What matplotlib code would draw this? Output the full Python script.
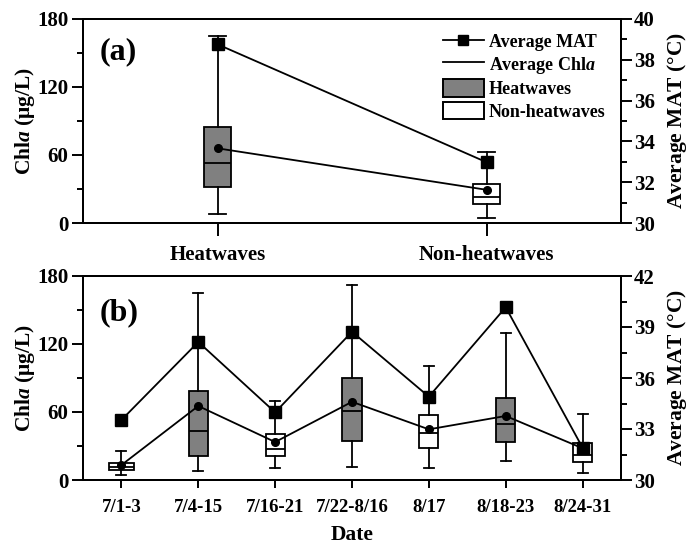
import matplotlib
matplotlib.use("Agg")
import matplotlib.pyplot as plt
from matplotlib.lines import Line2D
from matplotlib.patches import Patch
from matplotlib.ticker import MultipleLocator

plt.rcParams['font.family'] = ['Liberation Serif', 'DejaVu Serif']
plt.rcParams['font.weight'] = 'bold'
plt.rcParams['mathtext.fontset'] = 'custom'
plt.rcParams['mathtext.rm'] = 'Liberation Serif'
plt.rcParams['mathtext.bfit'] = 'Liberation Serif:italic:bold'
plt.rcParams['mathtext.it'] = 'Liberation Serif:italic:bold'
plt.rcParams['axes.linewidth'] = 1.4

# ---- Panel (a) data ----
cats_a = ['Heatwaves', 'Non-heatwaves']
a_whislo = [8.2, 4.1]
a_q1 = [31.5, 17.0]
a_med = [53.2, 23.2]
a_q3 = [84.5, 34.5]
a_whishi = [165.0, 62.9]
a_mean = [65.9, 29.3]
a_mat = [38.76, 32.98]
a_colors = ['#808080', 'white']

# ---- Panel (b) data ----
dates = ['7/1-3', '7/4-15', '7/16-21', '7/22-8/16', '8/17', '8/18-23', '8/24-31']
b_whislo = [4.7, 8.2, 10.9, 11.8, 10.3, 16.8, 6.5]
b_q1 = [8.5, 21.0, 21.5, 34.7, 28.0, 33.8, 15.6]
b_med = [11.8, 43.5, 27.6, 61.0, 41.5, 49.1, 22.0]
b_q3 = [15.3, 78.8, 40.9, 89.7, 57.4, 72.6, 33.0]
b_whishi = [25.9, 165.3, 69.7, 172.0, 100.6, 130.0, 58.0]
b_mean = [13.2, 65.3, 33.5, 69.0, 44.7, 56.5, 28.0]
b_mat = [33.53, 38.12, 33.98, 38.72, 34.90, 40.16, 31.90]
b_colors = ['white', '#808080', 'white', '#808080', 'white', '#808080', 'white']
b_widths = [0.33, 0.25, 0.25, 0.25, 0.25, 0.25, 0.25]

FS_TICK = 15
FS_LAB = 15.5

fig = plt.figure(figsize=(6.92, 5.47), dpi=100)
axA = fig.add_axes([83/692, 1-223/547, 538/692, 204/547])
axB = fig.add_axes([83/692, 1-480/547, 538/692, 204/547])


def draw(ax, whislo, q1, med, q3, whishi, mean, mat, colors, widths, capw, labels,
         xfs, xlen, xpad):
    pos = list(range(len(labels)))
    stats = []
    for i in pos:
        stats.append(dict(med=med[i], q1=q1[i], q3=q3[i], whislo=whislo[i],
                          whishi=whishi[i], fliers=[]))
    bp = ax.bxp(stats, positions=pos, widths=widths, patch_artist=True,
                showfliers=False, capwidths=capw,
                boxprops=dict(edgecolor='black', linewidth=1.3),
                medianprops=dict(color='black', linewidth=1.3),
                whiskerprops=dict(color='black', linewidth=1.3),
                capprops=dict(color='black', linewidth=1.3))
    for patch, c in zip(bp['boxes'], colors):
        patch.set_facecolor(c)
    ax.plot(pos, mean, color='black', lw=1.3, marker='o', ms=5.5, zorder=5)
    ax.set_xlim(-0.5, len(labels) - 0.5)
    ax.set_ylim(0, 180)
    ax.set_xticks(pos)
    ax.set_xticklabels(labels, fontsize=xfs, fontweight='bold')
    ax.yaxis.set_major_locator(MultipleLocator(60))
    ax.yaxis.set_minor_locator(MultipleLocator(30))
    ax.tick_params(axis='y', which='major', direction='out', length=8, width=1.4,
                   labelsize=FS_TICK, pad=2.5)
    ax.tick_params(axis='y', which='minor', direction='out', length=4, width=1.4)
    ax.tick_params(axis='x', which='major', direction='out', length=xlen, width=1.4,
                   pad=xpad)
    ax.set_ylabel(r'Chl$\mathit{a}$ (μg/L)', fontsize=FS_LAB, fontweight='bold', labelpad=0)
    ax2 = ax.twinx()
    ax2.plot(pos, mat, color='black', lw=1.3, marker='s', ms=8, zorder=6)
    ax2.tick_params(axis='y', which='major', direction='out', length=8, width=1.4,
                    labelsize=FS_TICK, pad=1.5)
    ax2.tick_params(axis='y', which='minor', direction='out', length=4.5, width=1.4)
    ax2.set_ylabel(r'Average MAT $\mathrm{(°C)}$', fontsize=FS_LAB, fontweight='bold',
                   rotation=90, labelpad=7)
    for lab in ax.get_yticklabels() + ax2.get_yticklabels():
        lab.set_fontweight('bold')
    return ax2


a2 = draw(axA, a_whislo, a_q1, a_med, a_q3, a_whishi, a_mean, a_mat,
          a_colors, 0.1, 0.06, cats_a, 15, 9, 7)
a2.set_ylim(30, 40)
a2.yaxis.set_major_locator(MultipleLocator(2))
a2.yaxis.set_minor_locator(MultipleLocator(1))

b2 = draw(axB, b_whislo, b_q1, b_med, b_q3, b_whishi, b_mean, b_mat,
          b_colors, b_widths, 0.13, dates, 13.5, 6, 8)
b2.set_ylim(30, 42)
b2.yaxis.set_major_locator(MultipleLocator(3))
b2.yaxis.set_minor_locator(MultipleLocator(1.5))
axB.set_xlabel('Date', fontsize=FS_LAB, fontweight='bold', labelpad=6)

axA.text(0.03, 0.84, '(a)', transform=axA.transAxes, fontsize=23,
         fontweight='bold', va='center', ha='left')
axB.text(0.03, 0.82, '(b)', transform=axB.transAxes, fontsize=23,
         fontweight='bold', va='center', ha='left')

handles = [
    Line2D([], [], color='black', lw=1.3, marker='s', ms=7),
    Line2D([], [], color='black', lw=1.3),
    Patch(facecolor='#808080', edgecolor='black', linewidth=1.4),
    Patch(facecolor='white', edgecolor='black', linewidth=1.4),
]
labels = ['Average MAT', r'Average Chl$\mathit{a}$', 'Heatwaves', 'Non-heatwaves']
leg = a2.legend(handles, labels, loc='upper right', bbox_to_anchor=(0.985, 0.97),
                frameon=False, handlelength=2.25, handleheight=1.1,
                handletextpad=0.3, labelspacing=0.2, borderaxespad=0,
                prop=dict(family='Liberation Serif', weight='bold', size=13))

fig.savefig('out.png', dpi=100)
